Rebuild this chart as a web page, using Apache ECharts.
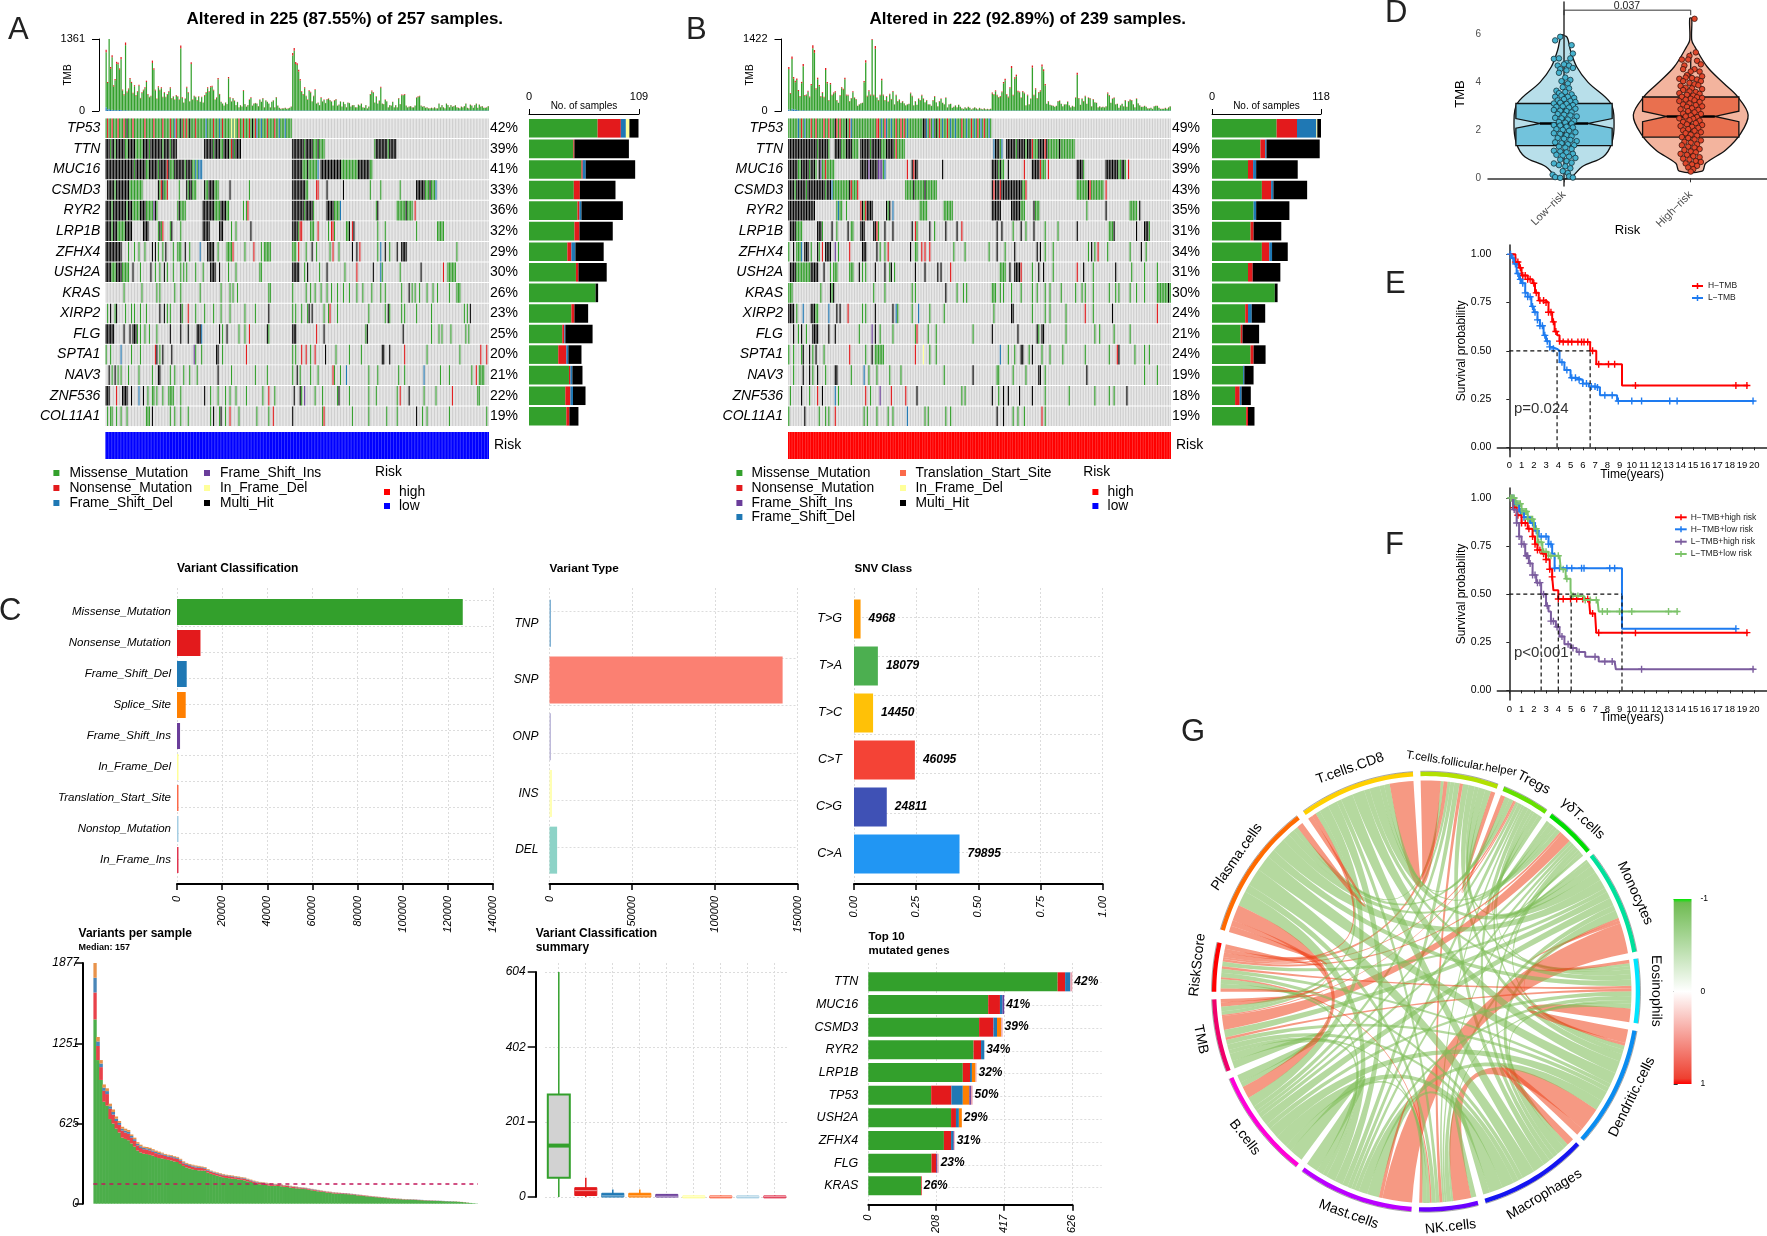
<!DOCTYPE html><html><head><meta charset="utf-8"><style>html,body{margin:0;background:#fff}#c{width:1767px;height:1236px}</style>
<script src="https://cdn.jsdelivr.net/npm/echarts@6/dist/echarts.min.js"></script></head><body><div id="c"></div><script>
const genesA=['TP53','TTN','MUC16','CSMD3','RYR2','LRP1B','ZFHX4','USH2A','KRAS','XIRP2','FLG','SPTA1','NAV3','ZNF536','COL11A1'];
const pctA=['42%','39%','41%','33%','36%','32%','29%','30%','26%','23%','25%','20%','21%','22%','19%'];
const pctB=['49%','49%','39%','43%','35%','31%','34%','31%','30%','24%','21%','24%','19%','18%','19%'];
const tmbAMiss=[1040,500,1340,780,990,450,560,880,870,760,960,380,290,1230,340,400,590,520,320,460,280,350,470,230,330,380,420,540,300,250,270,900,770,380,220,440,380,420,250,330,250,300,350,420,230,260,200,280,260,200,1180,240,150,220,430,330,170,880,200,270,250,190,260,160,250,150,280,330,420,350,440,450,380,200,240,590,300,160,130,90,150,120,610,240,170,230,180,100,160,60,100,70,370,120,70,100,200,240,90,130,140,130,80,200,160,230,60,190,160,130,60,160,190,60,245,90,50,30,40,40,50,30,40,50,70,1040,1130,880,860,740,570,350,300,420,270,200,370,340,170,270,390,130,150,100,240,170,200,140,210,220,190,170,90,190,210,90,110,170,70,160,120,60,150,140,70,100,100,60,60,110,90,130,60,50,100,40,70,300,360,330,150,260,130,180,430,130,120,200,170,60,100,90,160,60,100,60,230,120,290,290,300,90,60,70,80,60,60,90,240,260,270,90,70,80,50,60,40,40,50,40,60,40,40,130,60,100,60,40,130,100,60,100,70,80,100,60,50,40,70,60,80,130,50,40,110,90,50,100,130,50,110,70,80,50,50,60,80];
const tmbANons=[50,20,50,30,40,20,25,35,30,25,40,15,15,50,20,15,25,20,15,20,15,15,20,10,15,15,20,25,15,10,10,45,30,15,10,20,15,20,10,15,10,15,15,20,10,10,10,15,10,10,50,10,5,10,20,15,5,35,10,10,10,10,10,5,10,5,15,15,20,15,20,20,15,10,10,25,15,5,5,5,5,5,25,10,5,10,10,5,5,5,5,5,15,5,5,5,10,10,5,5,5,5,5,10,5,10,5,5,5,5,5,5,5,5,10,5,5,5,5,5,5,5,5,5,5,50,55,40,35,30,25,15,15,20,10,10,15,15,5,10,15,5,5,5,10,5,10,5,10,10,10,5,5,10,10,5,5,5,5,5,5,5,5,5,5,5,5,5,5,5,5,5,5,5,5,5,5,15,20,15,5,10,5,10,20,5,5,10,5,5,5,5,5,5,5,5,10,5,15,10,15,5,5,5,5,5,5,5,10,10,10,5,5,5,5,5,5,5,5,5,5,5,5,5,5,5,5,5,5,5,5,5,5,5,5,5,5,5,5,5,5,5,5,5,5,5,5,5,5,5,5,5,5,5,5,5,5];
const tmbBMiss=[800,330,980,610,540,590,380,270,540,870,290,300,370,260,500,1230,1140,420,620,480,270,350,260,800,540,200,520,300,340,360,200,150,290,440,410,620,300,300,180,240,360,250,220,90,120,140,150,560,950,280,380,300,1400,300,1220,250,200,300,600,300,200,270,170,320,220,370,120,300,180,210,150,180,140,100,120,130,340,280,100,180,110,230,200,300,230,160,200,120,120,90,200,270,160,80,180,230,150,120,250,60,120,130,50,70,100,60,110,70,40,30,60,40,70,50,20,40,60,40,20,50,30,20,40,20,30,20,30,340,310,380,300,260,270,360,540,600,310,260,440,840,300,630,680,370,360,250,370,340,100,300,120,230,850,300,420,240,350,380,870,780,500,130,180,110,100,90,70,90,180,190,130,80,120,120,170,100,60,90,70,250,710,240,110,230,180,280,130,250,240,80,220,160,150,60,80,60,70,60,80,340,290,150,230,250,120,130,50,100,130,80,200,70,180,210,200,120,60,230,140,100,70,70,90,70,40,40,50,30,80,90,90,50,30,30,30,50,30,60,80];
const tmbBNons=[40,15,50,30,25,30,20,15,25,45,15,15,20,15,25,60,55,20,30,25,15,15,15,40,25,10,25,15,15,20,10,5,15,20,20,30,15,15,10,10,20,10,10,5,5,5,5,25,45,15,20,15,60,15,55,10,10,15,30,15,10,15,10,15,10,15,5,15,10,10,5,10,5,5,5,5,15,15,5,10,5,10,10,15,10,5,10,5,5,5,10,15,5,5,10,10,5,5,10,5,5,5,5,5,5,5,5,5,5,5,5,5,5,5,5,5,5,5,5,5,5,5,5,5,5,5,5,15,15,20,15,10,15,15,25,30,15,15,20,40,15,30,30,20,15,10,15,15,5,15,5,10,40,15,20,10,15,20,40,35,25,5,10,5,5,5,5,5,10,10,5,5,5,5,10,5,5,5,5,10,35,10,5,10,10,15,5,10,10,5,10,5,5,5,5,5,5,5,5,15,15,5,10,10,5,5,5,5,5,5,10,5,10,10,10,5,5,10,5,5,5,5,5,5,5,5,5,5,5,5,5,5,5,5,5,5,5,5,5];
const tmbAShift=[70,30,40,20,25,15,20,15,15,20,20,10,10,15,10,10,10,10,10];
const tmbBShift=[30,10,45,30,30,20,15,10,10,15,10,10,10,10,10,10,10];
const oncoA=[
"m0-124 n1 n4 n8 n12 k14 n18 n26 n32 n38 n43 f46 n47 k50 n52 n54 k56 n60 f67 n72 f76 n78 y84 y86 n89 n92 n96 k98 n100 f101 f104 n108 n113 f116 f120",
"k0-2 m3 k4-5 m6 k7-12 m13-14 k15-19 m20-24 k25-28 m29 k30-37 m38 k39-42 m43 k44-47 k66-71 m72 k73-76 m77-78 k79-82 m83 n84 k85 m86 k87-90 k125-132 m133 k134-138 m139-141 k142 m143-146 m180 k181-188 m189 k190-194",
"k0-18 m19 k20-26 m27-28 k29-34 m35 k36-42 n41 m43-45 k46-52 m53 k54-57 m58-59 f60 m61 f62-64 k125-131 m132-134 k135 m136-141 f142 k144-157 m158-168 k169-176 m177-178",
"k1-5 m6 k7-15 m16-24 k35 m36 n37 k38 m39-40 n41 m49 k54 m55 k56-57 m58-60 k66 m67-68 k69-72 m73-75 k83 m96 k125-133 m134-135 n141-142 k148 k159 m177 m184 m197 k208-213 m214-216 k217 m218-220 f221",
"k0-3 m4 k5-13 m14 k15-17 m18-22 k23-26 m27-31 i32 k33 m34 m48 k49 m50-53 k65-72 m73-76 k77-80 m81-82 m92 m94 n95 k125-132 m133 k134-138 m139 k148-152 m153-156 f157 m181 k182 m195-200 k201 m202-205 n207",
"k0-3 m4 k5-7 m8-12 k13-17 k25-28 m35 k36 m37 n38 m43 k44 m50 k65-69 k76-78 m84 m87 k97 k125-128 m129 n130 n131 m137-139 n142 m149 n151 n152 m153 m161-162 k163 n165 k166 m182 m187 m208 m222-226",
"k0-10 m15 m19 m22 m26 k31 k33 m35 m38 k40 m45 m48-50 k53 m56 f63 k68-72 m75 m81-84 n85 m93 n99 m104 m106-110 m125-127 n129 m134 k138 m141 m150 n152 m156 k165 k168 n170 m182 f184 k187 m190 k195 k198-201 m235",
"k0-3 m4-6 k7-10 m11-15 k18 m23 k30 m33 m36 k39 m41 m45 m50 m52 m54 m60 m65 k70-73 k76 m82 m87 m103-104 k125-129 m133 k135 m143 k148 m160 n168 k179 f184 m185 m197 k211 n226 m229-234",
"m12 m24 m34 m36 m46 m50 m63 m77 m83 m85 m88 m109-110 m125 m134 m137 m140 m144 m148 m151 m155 m159 m163 m168 m172 m178 m184 m187 m198 k203 m205 m207 m210 m215 m219 m222 m230 m235-237",
"m1 k3 m6 k7 m13 m17 m19 m23 m27 k36 k39 m41 m43 k50 m51 n55 m60 m66 m72 m77 m83 m93 m100 k109 m125 m127 m131 m135 k136 k138 m146 m149 n150 m155 m176 m187 k189 m190 m198 m200 m208 m218 m240 m242 k244",
"k0-5 k12 k16 k18-20 m21 m23 m26 m29 m34 k43 k50 k55 k61-63 f64 k76 m78 k81 m89 m93 n96 k108 m109 k125-127 n141 k146 m174 k175 k199 m218 m223 m225 m231 m241 m243",
"m0 m3 f10 m17 m23 n33 k34 m36 k38 k44 i59 m60 m64 k74 k75 m78 n94 m125 m127 n131 n134 m137 n140 k147 m154 m163 m171 k185 k186 k190 n200 m215 m237 n251 n255",
"k2 m4 k6 m8 m10 m15 m22 m31 k35-36 m43 m46 m52 m56 m61 k75 m84 m100 m108 m125 k128 m130 m137 m142 n152 m153 m157 f161 m176 m182 m196 m200 f213 m224 m230 m245 n248 m250-253",
"k0-2 n7 k11-14 k17 f22 k25 m28 m31-32 m34 m38 m42-45 m50 k66 m70 m75 m80 m83 m87 m94 m105 n109 m113 k126 k130 m131 i133 m140 m145 m155 k156 m163 m176 m181 m195 n197 k203 m213 m221 n232 m249-250",
"m1 m3-4 m7 m10 m14 m27-29 k31 m43 m46 m50 m55 m70 k72 m76 k77 m80 n83 m89 m101 m109 n112 k125 m145 n146 m165 m176 m188 m195 k208 m212 m215 m230 m255"];
const oncoB=[
"m0-126 f6 n8 f10 n14 n17 n22 n25 k29 n30 n32 k36 n38 f39 n55 n56 f58 n60 f61 f64 n67 n70 n72 f74 k84 k85 f86 n88 f90 k92 n94 f96 n99 f101 f104 n108 f111 n114 f116 n118 f120 n122 f125",
"k0-17 m18 k19-24 m25 k29-32 m33-35 k36-39 m40-43 k45-50 m51 k52-57 m58-60 k61-65 m66 n67 m68-72 f128 k129-131 m132 f133 k136-141 m142 k143-147 m148 k149-151 n152 m153-155 k156-159 n160 k161 m162-168 k169 m170-178",
"k0-5 m6-7 k8-12 m13 k14-16 m17 k19 i20 m21-22 n23 m24-28 k45-49 i50 k51-55 i56-58 m59 f60 n74 k77 n78 k79-80 k96 k127-130 m131 k132 m133-134 k137 n147 k152-156 n157 m158-160 n162 k180-183 m184 k198-205 m206-207 k208-209 m210 n212",
"k0-3 m4 k5-10 m11 k12-22 m23 k24-26 f27 m28-37 k38 n39 m40-42 n43 m73-77 k78 m79-84 k85 m86-92 k127 n128 k129-131 n132 k133-145 m146-147 n148 m180-186 k187 n188 m189-196 n198",
"k0-16 m30 f31 m32-33 m36 n45 k46 m47 n48 k49-52 k61 m62 k63 f65 m82-86 m97-102 k127-132 k139-144 m145-147 k153 m154-156 m186 k198 m213-217 k219",
"k1-4 m5-8 k18-20 m21 k27 m30 k37 m39 m40 k45-47 k53 k54 n55 m56 k60 k65 k77 n79 m80 k88 m91 k98 k105 n108 k130 k133 m140 k145 m148 k153 m160 m168 k180 m200-202 k203 k217 k222-224 m225",
"m0 k3 m5-7 f8 k10-12 m14 k18 m19 n21 k23-26 i29 m31 n38 k46-48 k55 m57 m60 n62 k76 m79-80 n83 n85 n88 m103 m110 m125 k130 m135 k141 k155 k157 m160 m165 m187 k189 m191 n193 m199 m213 k220 m223",
"k1-4 m5-13 k14-18 k22 m26 m28-30 m38-40 k44 m46 m48 k54 k60 m63 k64 m66 k79 k85 k93 k95 n101 m132-135 k138 k141-145 n145 m152 k156 k159 m165 n180 k184 m190 k204 m214 m222 m230",
"m0-2 m20 k26 m27 k28 m53 m60 m77 m79 k98 m105 m109 m111 m127-129 m132 m134 m139 m145 m152 m155 m160 m163 m170 m179 m183 m185 m190 m200 m204 m206 m213 m217 m222 m230-238 k237",
"k0-3 m5 f9 k14-16 m17-18 f25 k30 k32 n37 m46 m48 k54 k65 f67 m68 m77 f81 m88 m97 m128 k139-140 m152 m160 m163 m173 n185 m190 k202 n230",
"k3 m6 k8 m11 k15-18 k25 k29 m44 i52 k54 m57 m65 m79 n80 m87 m92 m115 k127 k143 k155 m156 k158-159 m173 m191 m194 m203 m213",
"m0 m3 m8 k9 k13 m15 k17 m22 n38 m48 k52 m54-59 n79 y84 m88 m92 f132 m137 m141 k145 k146 m150 k152 m158 m163 m171 m185 m200 n205 k206 m216 m222 m225",
"m3 k9 k13 m15 k18 m23 k29-30 m39 f47 m50 m55 m63 m70 m97 k115 m130-131 m140 m148 k156-157 m160 k186 m222 m230",
"m1 k8 m13 n18 k21 f29 m31 n48 m51 i57 n64 n73 k80 m108 m110 k127 m131 k134 k137 k144 k152 m160 m175 m191 m200 m203 k211",
"m0 k10 m19 m23 m25 n29 m47 m49 m55 m62 m65 f74 m85 m87 m98 m101 k130 k134 m140 m143 m147 n158 m160"];
const sideAMiss=[68,44,52,44.4,48,45,38,46.5,66,42,33,29,39.6,36,37],sideANons=[23,1,1.2,6,2,5,4,2.5,0,3,2,8,1.4,5,3],sideAFdel=[5,0,3,0,2,0,4,0,0,0,1,2,2,2.6,0],sideAOth=[3.5,0,0,0,0,0,0,0,0,0,0,0,0,0,0],sideAMulti=[9,54,49,35.3,41,33,28,28,2.5,13.6,27,13,10,12.4,9];
const sideBMiss=[70,52.4,39,54,45,41.7,54,39,68,36,31,41.7,33.7,25,37],sideBNons=[22,5.2,5.5,10,0,3.3,8,5,0,3,2,3.3,0,5,2],sideBFdel=[21,1.4,3.3,2.5,2.8,0,3,0,0,4,0,0,1.3,2,0],sideBOth=[1,0,0,0,0,0,0,0,0,0,0,0,0,0,0],sideBMulti=[4,57.6,45,36.5,36,30,17,30,3,14.6,18,13,10,10,7];
const vcNames=['Missense_Mutation','Nonsense_Mutation','Frame_Shift_Del','Splice_Site','Frame_Shift_Ins','In_Frame_Del','Translation_Start_Site','Nonstop_Mutation','In_Frame_Ins'];
const vcValues=[126600,10400,4300,3860,1350,350,300,150,60];
const vcColors=['#33A02C','#E31A1C','#1F78B4','#FF7F00','#6A3D9A','#FFFF99','#FB6A4A','#A6CEE3','#E0354F'];
const vtNames=['TNP','SNP','ONP','INS','DEL'],vtValues=[20,141000,100,1500,4600],vtColors=['#80B1D3','#FB8072','#BEBADA','#FFFFB3','#8DD3C7'];
const snvNames=['T>G','T>A','T>C','C>T','C>G','C>A'],snvCounts=[4968,18079,14450,46095,24811,79895],snvFrac=[.0264,.096,.0767,.2448,.1318,.4243],snvColors=['#FF9800','#4CAF50','#FFC107','#F44336','#3F51B5','#2196F3'];
const vpsTotal=[1877,1300,1120,930,900,780,735,680,645,600,585,575,540,515,480,460,445,442,436,425,414,406,398,388,382,378,370,365,350,330,318,310,304,298,295,290,285,270,258,250,244,238,232,226,224,220,216,212,208,204,195,188,180,174,170,168,164,160,157,155,152,150,146,144,140,136,134,130,127,125,120,116,112,108,104,100,96,94,90,88,86,84,83,81,78,76,72,70,66,64,61,58,56,54,52,49,47,44,42,40,39,37,36,35,34,33,31,30,28,27,26,25,24,23,22,21,20,19,18,16,14,12,9,6,4,2];
const vpsNons=[210,110,100,85,90,80,70,60,60,55,50,50,45,45,40,35,35,35,35,30,30,30,30,25,25,25,25,25,25,20,20,20,20,20,20,20,15,15,15,15,15,15,15,15,15,15,12,12,12,12,12,10,10,10,10,10,10,10,10,8,8,8,8,8,8,8,8,6,6,6,6,6,6,6,6,5,5,5,5,5,5,5,5,4,4,4,4,4,4,4,3,3,3,3,3,3,3,3,3,2,2,2,2,2,2,2,2,2,2,2,2,2,1,1,1,1,1,1,1,1,1,1,1,0,0,0];
const vpsFdel=[115,35,28,25,23,20,20,18,15,15,15,15,13,13,13,13,10,10,10,10,10,10,8,8,8,8,8,8,8,8,8,8,8,8,8,6,6,6,5,5,5,5,5,5,5,5,5,5,5,5,4,4,4,4,4,4,4,4,4,3,3,3,3,3,3,3,3,3,3,3,3,3,3,3,2,2,2,2,2,2,2,2,2,2,2,2,2,1,1,1,1,1,1,1,1,1,1,1,1,1,1,1,1,1,1,1,1,1,1,1,1,1,1,1,1,1,1,1,0,0,0,0,0,0,0,0];
const vpsSplice=[115,35,27,25,22,20,20,17,15,15,15,15,12,12,12,12,10,10,10,10,10,10,7,7,7,7,7,7,7,7,7,7,7,7,7,6,6,6,5,5,5,5,5,5,5,5,5,5,5,5,4,4,4,4,4,4,4,4,4,3,3,3,3,3,3,3,3,2,2,2,2,2,2,2,2,2,2,2,2,2,2,1,1,1,1,1,1,1,1,1,1,1,1,1,1,1,1,1,1,1,1,1,1,0,0,0,0,0,0,0,0,0,0,0,0,0,0,0,0,0,0,0,0,0,0,0];
const boxRows=[[0,52,138,275,604],[0,4,17,25,52],[0,0,3,10,20],[0,0,3,10,20],[0,0,2,7,8],[0,0,1,3,4],[0,0,1,3,4],[0,0,1,3,4],[0,0,1,3,4]];
const boxColors=['#33A02C','#E31A1C','#1F78B4','#FF7F00','#6A3D9A','#FFFF99','#FB6A4A','#A6CEE3','#E0354F'];
const topGenes=['TTN','MUC16','CSMD3','RYR2','LRP1B','TP53','USH2A','ZFHX4','FLG','KRAS'],topPct=['42%','41%','39%','34%','32%','50%','29%','31%','23%','26%'];
const topMiss=[581,368,340,323,290,193,254,232,194,162],topNons=[23,36,44,23,22,62,15,22,14,2],topFdel=[16,8,11,10,6,35,9,7,0,0],topSplice=[0,0,13,0,11,20,9,0,0,0],topFins=[0,5,0,0,0,5,0,2,4,0],topOther=[6,0,4,0,3,5,0,2,4,0];
const riskNames=['Low−risk','High−risk'];
const violinLow=[[5.9,.022],[5.35,.05],[4.65,.1],[4,.19],[3.12,.37],[2.29,.395],[1.46,.376],[.9,.31],[.49,.145],[.03,.05]];
const violinHigh=[[6.67,.008],[5.76,.008],[5.49,.032],[4.65,.13],[3.96,.26],[3.4,.37],[2.64,.453],[1.875,.395],[1.18,.276],[.625,.118],[.3,.09]];
const boxLow=[0,1.36,2.29,3.12,5.9],boxHigh=[.3,1.72,2.58,3.39,5.28];
const ptsLow=[-7,575,-3,590,6,555,7,520,-8,498,-4,500,5,500,2,480,-5,470,0,475,4,470,7,460,-3,455,2,450,-4,440,1,420,5,410,-2,405,3,395,-6,365,-1,380,4,375,-4,355,1,360,6,350,-7,340,-2,345,3,340,8,335,-5,325,0,330,5,322,9,318,-8,312,-3,315,2,310,7,305,-6,298,-1,300,4,295,9,290,-8,285,-3,282,2,280,6,275,-5,268,0,265,5,262,10,258,-7,252,-2,250,3,245,8,240,-4,235,1,232,6,228,-8,222,-3,220,2,215,7,212,-6,205,-1,202,4,198,9,192,-8,188,-3,185,2,180,6,175,-5,168,0,165,5,160,10,155,-7,150,-2,146,3,142,8,138,-4,132,1,128,6,122,-8,115,-3,112,2,108,7,102,-6,98,-1,95,4,90,9,85,-8,62,-3,78,2,72,6,65,-4,55,1,50,5,42,-1,30,3,22,-9,15,4,8,-7,5,7,3,-3,2];
const ptsHigh=[3,665,4,525,-1,510,-7,495,-2,495,5,490,8,475,-5,470,-6,455,3,455,7,445,0,445,-3,430,9,425,-9,415,-4,420,1,418,5,412,-6,405,8,405,-1,398,3,392,-8,385,6,388,-4,378,1,375,9,372,-6,368,-1,362,4,360,-9,355,7,352,-3,348,2,345,-7,340,5,338,0,332,9,335,-4,328,-9,322,3,325,7,318,-1,312,-6,308,4,305,9,300,-3,298,1,292,-8,288,6,285,-2,280,3,275,-6,270,8,268,0,262,-4,258,5,255,-9,250,2,248,-1,242,7,240,-6,235,4,230,-3,225,9,222,-8,218,1,215,6,210,-2,205,-6,200,3,198,8,192,-4,188,0,182,5,178,-7,172,-2,168,3,162,8,158,-5,152,0,148,5,142,-7,138,-2,132,3,128,7,122,-5,118,0,112,4,108,-8,102,-3,98,2,92,7,88,-6,82,-1,78,4,72,8,68,-4,62,1,58,5,52,-2,45,2,38,0,28];
const kmEHigh=[[0,1],[.5,.96],[.8,.93],[1,.89],[1.5,.87],[1.9,.85],[2.1,.8],[2.4,.76],[3,.75],[3.2,.7],[3.5,.65],[3.7,.6],[3.9,.58],[4.1,.55],[4.3,.545],[6.6,.5],[7.1,.43],[9.2,.32],[19.5,.32]];
const kmELow=[[0,1],[.2,.98],[.4,.95],[.6,.9],[.8,.87],[1,.85],[1.3,.8],[1.5,.78],[1.8,.73],[2,.7],[2.3,.66],[2.5,.63],[2.8,.58],[3,.55],[3.3,.52],[3.5,.51],[3.9,.5],[4.1,.44],[4.5,.4],[5,.36],[5.5,.35],[6,.33],[6.5,.315],[7.1,.31],[7.4,.27],[8.6,.27],[8.8,.24],[20,.24]];
const censEHigh=[.5,.7,.9,1.1,1.3,1.5,1.7,2,2.2,2.5,2.8,3,3.2,3.4,3.6,3.8,4.1,4.4,4.8,5.1,5.6,5.9,6.1,6.4,6.8,7.3,8.1,8.6,10.3,18.5,19.4];
const censELow=[.1,.3,.5,.7,.9,1.1,1.3,1.5,1.7,1.9,2.1,2.3,2.5,2.7,2.9,3.1,3.3,3.6,4.3,4.7,5.1,5.4,5.7,6,6.3,6.7,7,7.2,7.8,8.4,8.9,10,10.8,13.1,13.7,19.9];
const kmF1=[[0,1],[.3,.95],[.6,.91],[1,.87],[1.5,.84],[1.9,.8],[2.1,.76],[2.3,.73],[2.7,.71],[3,.68],[3.3,.63],[3.5,.59],[3.6,.52],[4,.475],[6.5,.47],[6.6,.4],[7,.39],[7.1,.3],[19.5,.3]];
const kmF2=[[0,1],[.4,.97],[.8,.93],[1.2,.9],[1.7,.87],[2.1,.83],[2.4,.8],[3,.8],[3.2,.76],[3.5,.71],[3.7,.635],[9.2,.32],[18.5,.32]];
const kmF3=[[0,1],[.3,.94],[.6,.87],[.8,.8],[1,.76],[1.3,.7],[1.6,.66],[1.9,.6],[2.2,.56],[2.6,.5],[3,.44],[3.2,.41],[3.4,.36],[3.8,.33],[4.1,.28],[4.5,.24],[5,.22],[5.5,.2],[6.2,.175],[7.3,.15],[8.6,.145],[8.7,.11],[20,.11]];
const kmF4=[[0,1],[.5,.97],[1,.93],[1.5,.89],[2,.84],[2.3,.77],[2.7,.72],[3.2,.7],[4.1,.695],[4.2,.63],[4.6,.58],[5,.52],[5.1,.49],[6.1,.47],[7.2,.465],[7.3,.41],[13.8,.41]];
const censF1=[.4,.7,1,1.3,1.6,1.9,2.1,2.3,2.5,2.8,3,3.3,3.5,4,4.4,5,5.5,6,6.4,6.8,7.3,10.3,19.4];
const censF2=[.3,.6,.9,1.2,1.5,1.9,2.2,2.6,3,3.2,3.4,3.7,4.1,4.7,5.1,5.9,6.1,8.2,8.6,18.5];
const censF3=[.2,.4,.6,.8,1,1.2,1.4,1.5,1.7,1.9,2.1,2.3,2.5,2.8,3.1,3.4,3.6,3.9,4.3,4.8,5.2,5.7,7,7.8,8.4,10.8,19.9];
const censF4=[.1,.2,.3,.4,.5,.6,.7,.8,.9,1,1.1,1.2,1.3,1.4,1.5,1.6,1.7,1.8,1.9,2,2.2,2.4,2.6,2.8,3,3.2,3.4,3.7,4,4.4,4.7,5.2,5.6,6.2,6.6,7.1,7.6,8,9,10,13,13.7];
const chordNames=['T.cells.follicular.helper','Tregs','γδT.cells','Monocytes','Eosinophils','Dendritic.cells','Macrophages','NK.cells','Mast.cells','B.cells','TMB','RiskScore','Plasma.cells','T.cells.CD8'];
const chordStart=[-1.5,21.4,36,51.3,81.3,100.3,134.3,165.8,183.9,217.3,248.7,270,286.4,325];
const chordSpan=[21.2,13,13.9,28.2,17,32.3,29.5,16.1,31.5,29.4,19.3,13,36.6,31.5];
const chordColors=['#B2E000','#66E000','#00DD00','#00E09B','#00E5FF','#0A8CF0','#1515F0','#6A00FF','#BA00FF','#FF00D8','#F0006A','#FF0000','#FF6A00','#FFD000'];
const chordUpper=[[16,-20,-24,-14,-22,-20,12,-18,-14,-10,14,-10,70],[-14,-18,-10,-14,-16,-8,-14,-10,4,6,-14,-16],[-8,-8,-12,-14,-8,-12,-12,40,8,-16,-14],[10,8,-26,-18,100,-26,-22,-14,-30,-30],[40,-14,-8,-14,-14,8,8,-18,-16],[22,70,-30,-30,-14,-12,-34,-36],[-20,-40,-36,-16,-14,-38,-36],[12,-18,-12,6,-16,-14],[-40,-22,-14,-32,-28],[-22,-14,34,-28],[10,12,-14],[14,12],[14]];
const chordFirst={8:[3]},chordLast={3:[8]};

const FF='"Liberation Sans",Arial,sans-serif';
const MC={m:'#33A02C',n:'#E31A1C',f:'#1F78B4',i:'#6A3D9A',y:'#FFFF99',k:'#000000',t:'#FB6A4A'};
const grid=[],xAxis=[],yAxis=[],extraY=[],series=[],graphic=[];
const chart=echarts.init(document.getElementById('c'),null,{renderer:'canvas',width:1767,height:1236});
const addGrid=(l,t,w,h)=>{grid.push({left:l,top:t,width:w,height:h});return grid.length-1};
const txt=(x,y,s,o={})=>graphic.push({type:'text',x,y,rotation:o.rot||0,z:20,style:{text:s,fontFamily:FF,fontSize:o.s||13,fontWeight:o.w||'normal',fontStyle:o.st||'normal',fill:o.c||'#000',align:o.a||'left',verticalAlign:'middle'}});
const sq=(x,y,c,s=6)=>graphic.push({type:'rect',z:20,shape:{x:x-s/2,y:y-s/2,width:s,height:s},style:{fill:c}});
const seg=(x0,y0,x1,y1,c,w=2)=>graphic.push({type:'line',z:20,shape:{x1:x0,y1:y0,x2:x1,y2:y1},style:{stroke:c,lineWidth:w}});
const DOT={color:'#dcdcdc',type:[2,2],width:1};
const off={axisLine:{show:false},axisTick:{show:false},axisLabel:{show:false}};
const plain=v=>String(v);
function rule(l,t,w,h,dx,dy){const g=addGrid(l,t,w,h);
 xAxis.push({gridIndex:g,type:'value',min:0,max:w,interval:dx||w,...off,splitLine:{show:!!dx,lineStyle:DOT}});
 yAxis.push({gridIndex:g,type:'value',min:0,max:h,interval:dy||h,...off,splitLine:{show:!!dy,lineStyle:DOT}});}
function parseOnco(str){const out=[];for(const m of str.matchAll(/([a-z])(\d+)(?:-(\d+))?/g)){const a=+m[2],b=m[3]?+m[3]:a;for(let i=a;i<=b;i++)out[i]=m[1];}return out;}
function oncoPanel(o){const n=o.n,cats=Array.from({length:n},(_,i)=>i),gT=addGrid(o.l,39,o.w,72);
 xAxis.push({gridIndex:gT,type:'category',data:cats,show:false});
 yAxis.push({gridIndex:gT,type:'value',min:0,max:o.max,interval:o.max,offset:o.off,name:'TMB',nameLocation:'middle',nameGap:26,nameTextStyle:{fontSize:10,color:'#000'},axisLine:{show:true,lineStyle:{color:'#000'}},axisTick:{show:true,length:7,lineStyle:{color:'#000'}},axisLabel:{fontSize:11,color:'#000',margin:14,formatter:plain},splitLine:{show:false}});
 [[o.shift,'#1F78B4'],[o.miss,'#33A02C'],[o.nons,'#E31A1C']].forEach(([d,c])=>series.push({type:'bar',xAxisIndex:gT,yAxisIndex:gT,stack:'t'+n,data:d,barWidth:'82%',itemStyle:{color:c},silent:true}));
 const gO=addGrid(o.l,118,o.w,308.6);
 xAxis.push({gridIndex:gO,type:'category',data:cats,show:false});
 yAxis.push({gridIndex:gO,type:'category',data:genesA,inverse:true,axisLine:{show:false},axisTick:{show:false},axisLabel:{fontSize:14,fontStyle:'italic',color:'#000',margin:5}});
 extraY.push({gridIndex:gO,type:'category',position:'right',data:o.pct,inverse:true,axisLine:{show:false},axisTick:{show:false},axisLabel:{fontSize:14,color:'#000',margin:1}});
 const cells=[],muts=[];const codes=Object.keys(MC);
 o.onco.forEach((s,j)=>{const r=parseOnco(s);for(let i=0;i<n;i++){cells.push([i,j,0]);if(r[i])muts.push([i,j,codes.indexOf(r[i])]);}});
 const mk=(d,cols,fr)=>series.push({type:'custom',xAxisIndex:gO,yAxisIndex:gO,data:d,silent:true,progressive:0,clip:false,renderItem:(p,api)=>{const c=api.coord([api.value(0),api.value(1)]),w=api.size([1,1])[0]*fr;return {type:'rect',shape:{x:c[0]-w/2,y:c[1]-9.8,width:w,height:19.6},style:{fill:cols[api.value(2)]}}}});
 mk(cells,['#cfcfcf'],.72);mk(muts,codes.map(c=>MC[c]),.72);
 const gR=addGrid(o.l,432,o.w,27);
 xAxis.push({gridIndex:gR,type:'category',data:cats,show:false});
 yAxis.push({gridIndex:gR,type:'value',min:0,max:1,show:false});
 series.push({type:'bar',xAxisIndex:gR,yAxisIndex:gR,data:cats.map(()=>1),barWidth:'110%',itemStyle:{color:o.risk},silent:true});
 txt(o.l+o.w+5,445.6,'Risk',{s:14});
 const gS=addGrid(o.sl,118,o.sw,308.6);
 xAxis.push({gridIndex:gS,type:'value',position:'top',min:0,max:o.smax,interval:o.smax,offset:4,name:'No. of samples',nameLocation:'middle',nameGap:3,nameTextStyle:{fontSize:10,color:'#000'},axisLine:{show:true,lineStyle:{color:'#000'}},axisTick:{show:true,length:5,lineStyle:{color:'#000'}},axisLabel:{fontSize:11,color:'#000',margin:12},splitLine:{show:false}});
 yAxis.push({gridIndex:gS,type:'category',data:genesA,inverse:true,show:false});
 o.side.forEach((d,i)=>series.push({type:'bar',xAxisIndex:gS,yAxisIndex:gS,stack:'s'+n,data:d,barWidth:18.6,itemStyle:{color:['#33A02C','#E31A1C','#1F78B4','#FFFF99','#000'][i]},silent:true}));
}
oncoPanel({n:257,l:105.4,w:383.6,off:6.4,max:1361,miss:tmbAMiss,nons:tmbANons,shift:tmbAShift.concat(Array(238).fill(8)),pct:pctA,onco:oncoA,risk:'#0000FF',sl:529,sw:110,smax:109,side:[sideAMiss,sideANons,sideAFdel,sideAOth,sideAMulti]});
oncoPanel({n:239,l:788,w:383,off:6.5,max:1422,miss:tmbBMiss,nons:tmbBNons,shift:tmbBShift.concat(Array(222).fill(8)),pct:pctB,onco:oncoB,risk:'#FF0000',sl:1212,sw:109,smax:118,side:[sideBMiss,sideBNons,sideBFdel,sideBOth,sideBMulti]});
txt(344.8,19,'Altered in 225 (87.55%) of 257 samples.',{s:17,w:'bold',a:'center'});
txt(1027.8,19,'Altered in 222 (92.89%) of 239 samples.',{s:17,w:'bold',a:'center'});
txt(8,30,'A',{s:31,c:'#222'});txt(686,30,'B',{s:31,c:'#222'});txt(-1,611,'C',{s:31,c:'#222'});txt(1385,13,'D',{s:31,c:'#222'});txt(1385,284,'E',{s:31,c:'#222'});txt(1385,545,'F',{s:31,c:'#222'});txt(1181,732,'G',{s:31,c:'#222'});
[['Missense_Mutation','#33A02C',56.4,69.4,473],['Nonsense_Mutation','#E31A1C',56.4,69.4,488],['Frame_Shift_Del','#1F78B4',56.4,69.4,503],['Frame_Shift_Ins','#6A3D9A',207,220,473],['In_Frame_Del','#FFFF99',207,220,488],['Multi_Hit','#000',207,220,503],['high','#F00',387,399,492],['low','#00F',387,399,506],
 ['Missense_Mutation','#33A02C',739.4,751.5,473],['Nonsense_Mutation','#E31A1C',739.4,751.5,488],['Frame_Shift_Ins','#6A3D9A',739.4,751.5,503],['Frame_Shift_Del','#1F78B4',739.4,751.5,517],['Translation_Start_Site','#FB6A4A',903,915.5,473],['In_Frame_Del','#FFFF99',903,915.5,488],['Multi_Hit','#000',903,915.5,503],['high','#F00',1095.4,1107.6,492],['low','#00F',1095.4,1107.6,506]].forEach(a=>{sq(a[2],a[4],a[1]);txt(a[3],a[4],a[0],{s:13.8});});
txt(375,472.5,'Risk',{s:13.8});txt(1083.3,472.5,'Risk',{s:13.8});

const italic={fontStyle:'italic',color:'#000'};
const blackAxis=(extra)=>({axisLine:{show:true,lineStyle:{color:'#000',width:2}},axisTick:{show:true,length:6,lineStyle:{color:'#000',width:1.5}},splitLine:{show:false},...extra});
function hbars(o){rule(o.l,588,o.w,296,o.dx,0);rule(o.l,o.lb-o.dy*o.k,o.w,o.dy*o.k,0,o.dy);
 const g=addGrid(o.l,o.t,o.w,o.h);
 xAxis.push({gridIndex:g,type:'value',min:0,max:o.max,interval:o.int,offset:884-o.t-o.h,...blackAxis({axisLabel:{rotate:90,fontSize:11,margin:12,...italic,formatter:o.fmt}})});
 yAxis.push({gridIndex:g,type:'category',data:o.names,inverse:true,axisLine:{show:false},axisTick:{show:false},axisLabel:{fontSize:o.fs||11.5,margin:o.m,...italic}});
 series.push({type:'bar',xAxisIndex:g,yAxisIndex:g,barWidth:o.bw,barMinHeight:o.mh||0,data:o.vals.map((v,i)=>({value:v,itemStyle:{color:o.cols[i]}})),silent:true,label:o.label});}
hbars({l:177,w:316,t:596.5,h:279,dx:45.14,lb:859.3,dy:25.9,k:10,max:140000,int:20000,names:vcNames,vals:vcValues,cols:vcColors,bw:26,m:6,mh:1.5,fmt:plain});
hbars({l:549.5,w:248,t:595,h:283.5,dx:82.67,lb:847.3,dy:47.2,k:5,max:150000,int:50000,names:vtNames,vals:vtValues,cols:vtColors,bw:47,m:11,mh:1.5,fmt:plain,fs:12});
hbars({l:854,w:248.7,t:595.5,h:282,dx:62.175,lb:852,dy:39.2,k:6,max:1,int:.25,names:snvNames,vals:snvFrac,cols:snvColors,bw:39,m:12,fs:12.5,fmt:v=>v.toFixed(2),label:{show:true,position:'right',distance:8,fontSize:12,fontWeight:'bold',fontStyle:'italic',color:'#000',formatter:p=>snvCounts[p.dataIndex]}});
txt(177,569,'Variant Classification',{s:12,w:'bold'});txt(549.5,569,'Variant Type',{s:11.8,w:'bold'});txt(854.5,569,'SNV Class',{s:11.5,w:'bold'});
txt(78.6,934,'Variants per sample',{s:12,w:'bold'});txt(78.6,948,'Median: 157',{s:9,w:'bold'});
txt(535.7,934,'Variant Classification',{s:12,w:'bold'});txt(535.7,947.5,'summary',{s:12,w:'bold'});
txt(868.5,937,'Top 10',{s:11.5,w:'bold'});txt(868.5,951,'mutated genes',{s:11.5,w:'bold'});

const vg=addGrid(93.4,963,384.6,240.7);
xAxis.push({gridIndex:vg,type:'category',data:vpsTotal.map((_,i)=>i),show:false});
yAxis.push({gridIndex:vg,type:'value',min:0,max:1877,offset:10.4,...blackAxis({axisTick:{show:true,length:8,lineStyle:{color:'#000',width:1.5},customValues:[0,625,1251,1877]},axisLabel:{fontSize:12,margin:4,...italic,formatter:plain,customValues:[0,625,1251,1877]}})});
series.push({type:'bar',xAxisIndex:vg,yAxisIndex:vg,stack:'v',barWidth:'118%',data:vpsTotal.map((t,i)=>t-vpsNons[i]-vpsFdel[i]-vpsSplice[i]),itemStyle:{color:'#4CAE4A'},silent:true,markLine:{silent:true,symbol:'none',z:9,label:{show:false},lineStyle:{color:'#C2185B',type:[4,4],width:1.5},data:[{yAxis:157}]}});
[[vpsNons,'#E8424A'],[vpsFdel,'#4A86B8'],[vpsSplice,'#E8924A']].forEach(([d,c])=>series.push({type:'bar',xAxisIndex:vg,yAxisIndex:vg,stack:'v',barWidth:'118%',data:d,itemStyle:{color:c},silent:true}));

rule(558.7,963,216,234,27,0);rule(545,972,243,225,0,75);
const bg=addGrid(545.3,972,243,225);
xAxis.push({gridIndex:bg,type:'category',data:vcNames,show:false});
yAxis.push({gridIndex:bg,type:'value',min:0,max:604,offset:9.6,...blackAxis({axisTick:{show:true,length:8,lineStyle:{color:'#000',width:1.5},customValues:[0,201,402,604]},axisLabel:{fontSize:12,margin:10,...italic,customValues:[0,201,402,604]}})});
series.push({type:'custom',xAxisIndex:bg,yAxisIndex:bg,silent:true,clip:false,data:boxRows.map((r,i)=>[i,...r]),renderItem:(p,api)=>{const i=api.value(0),c=boxColors[i],P=k=>api.coord([i,api.value(k)]),x=P(1)[0],y=k=>P(k)[1];
 return {type:'group',children:[
  {type:'line',shape:{x1:x,y1:y(1),x2:x,y2:y(5)},style:{stroke:c,lineWidth:1.5}},
  {type:'rect',shape:{x:x-11,y:y(4),width:22,height:Math.max(y(2)-y(4),2)},style:{fill:i?c:'#d2d2d2',stroke:c,lineWidth:i?1:2}},
  {type:'line',shape:{x1:x-11,y1:y(3),x2:x+11,y2:y(3)},style:{stroke:i?'rgba(255,255,255,.55)':c,lineWidth:i?1:4}}]};}});

rule(868.3,963,204,243,68,0);rule(868.3,982.5,233.4,205.2,0,22.8);
const tg=addGrid(868.3,970.5,204,228);
xAxis.push({gridIndex:tg,type:'value',min:0,max:626,offset:7.5,...blackAxis({axisTick:{show:true,length:6,lineStyle:{color:'#000',width:1.5},customValues:[0,208,417,626]},axisLabel:{rotate:90,fontSize:11,margin:10,...italic,customValues:[0,208,417,626]}})});
yAxis.push({gridIndex:tg,type:'category',data:topGenes,inverse:true,axisLine:{show:false},axisTick:{show:false},axisLabel:{fontSize:12.5,margin:10,...italic}});
[[topMiss,'#33A02C'],[topNons,'#E31A1C'],[topFdel,'#1F78B4'],[topSplice,'#FF7F00'],[topFins,'#6A3D9A'],[topOther,'#E9A3B0']].forEach(([d,c],k)=>series.push({type:'bar',xAxisIndex:tg,yAxisIndex:tg,stack:'g',barWidth:19,data:d,itemStyle:{color:c},silent:true,label:k==5?{show:true,position:'right',distance:2,fontSize:12,fontWeight:'bold',fontStyle:'italic',color:'#000',formatter:p=>topPct[p.dataIndex]}:undefined}));

const dg=addGrid(1488,2,279,184);
xAxis.push({gridIndex:dg,type:'value',min:-.6,max:1.602,name:'Risk',nameLocation:'middle',nameGap:38,nameTextStyle:{fontSize:13,color:'#000'},axisLine:{show:true,lineStyle:{color:'#333',width:1.5}},axisTick:{show:true,length:4,lineStyle:{color:'#333'},customValues:[0,1]},axisLabel:{rotate:45,fontSize:11,color:'#4d4d4d',margin:7,customValues:[0,1],formatter:v=>riskNames[v]},splitLine:{show:false}});
yAxis.push({gridIndex:dg,type:'value',min:-.32,max:7.35,name:'TMB',nameLocation:'middle',nameGap:21,nameTextStyle:{fontSize:13,color:'#000'},axisLine:{show:true,lineStyle:{color:'#333',width:1.5}},axisTick:{show:true,length:4,lineStyle:{color:'#333'},customValues:[0,2,4,6]},axisLabel:{fontSize:10,color:'#4d4d4d',margin:7,customValues:[0,2,4,6]},splitLine:{show:false}});
function violin(cx,prof,box,fill,boxFill,notch){series.push({type:'custom',xAxisIndex:dg,yAxisIndex:dg,data:[[cx,box[2]]],silent:true,clip:false,renderItem:(p,api)=>{
 const pt=(x,y)=>api.coord([x,y]),hw=.38,[,q1,med,q3]=box;
 const outline=[...prof.map(r=>pt(cx+r[1],r[0])),...prof.slice().reverse().map(r=>pt(cx-r[1],r[0]))];
 const B=[[cx-hw,q1],[cx+hw,q1],[cx+hw,med-notch],[cx+hw*.5,med],[cx+hw,med+notch],[cx+hw,q3],[cx-hw,q3],[cx-hw,med+notch],[cx-hw*.5,med],[cx-hw,med-notch]].map(a=>pt(a[0],a[1]));
 return {type:'group',children:[
  {type:'polygon',shape:{points:outline,smooth:.35},style:{fill,stroke:'#111',lineWidth:1.3}},
  {type:'polygon',shape:{points:B},style:{fill:boxFill,stroke:'#111',lineWidth:1.3}},
  {type:'line',shape:{x1:pt(cx-hw*.5,med)[0],y1:pt(0,med)[1],x2:pt(cx+hw*.5,med)[0],y2:pt(0,med)[1]},style:{stroke:'#000',lineWidth:2.5}},
  {type:'line',shape:{x1:pt(cx,0)[0],y1:pt(0,box[0])[1],x2:pt(cx,0)[0],y2:pt(0,box[4])[1]},style:{stroke:'#111',lineWidth:1.3}}]};}});}
violin(0,violinLow,boxLow,'#B8DFEA','#72C3DC',.2);violin(1,violinHigh,boxHigh,'#F3B49E','#E9704F',.22);
const toPts=(a,c)=>{const o=[];for(let i=0;i<a.length;i+=2)o.push([c+a[i]/100,a[i+1]/100]);return o};
series.push({type:'scatter',xAxisIndex:dg,yAxisIndex:dg,data:toPts(ptsLow,0),symbolSize:5.5,silent:true,itemStyle:{color:'#46B2CE',borderColor:'#17323b',borderWidth:.8,opacity:1}});
series.push({type:'scatter',xAxisIndex:dg,yAxisIndex:dg,data:toPts(ptsHigh,1),symbolSize:5.5,silent:true,itemStyle:{color:'#E0472B',borderColor:'#3b1710',borderWidth:.8,opacity:1}});
series.push({type:'line',xAxisIndex:dg,yAxisIndex:dg,data:[[0,6.8],[0,7.01],[1,7.01],[1,6.8]],symbol:'none',silent:true,clip:false,lineStyle:{color:'#333',width:1}});
txt(1627,6,'0.037',{s:10.5,a:'center',c:'#222'});

const PLUS='path://M4,0H6V4H10V6H6V10H4V6H0V4H4Z';
const sAt=(c,t)=>{let s=c[0][1];for(const p of c){if(p[0]<=t)s=p[1];}return s};
function km(top,h,y0,y1,curves,med,pv,py){const g=addGrid(1497.3,top,269.7,h);
 const ax={color:'#222',width:1.5};
 xAxis.push({gridIndex:g,type:'value',min:-.98,max:21.04,name:'Time(years)',nameLocation:'middle',nameGap:12,nameTextStyle:{fontSize:12,color:'#000'},axisLine:{show:true,lineStyle:ax},axisTick:{show:true,length:3,lineStyle:{color:'#222'},customValues:[...Array(21).keys()]},axisLabel:{fontSize:9.5,color:'#000',margin:4,hideOverlap:false,customValues:[...Array(21).keys()]},splitLine:{show:false}});
 yAxis.push({gridIndex:g,type:'value',min:y0,max:y1,name:'Survival probability',nameLocation:'middle',nameGap:30,nameTextStyle:{fontSize:12,color:'#000'},axisLine:{show:true,lineStyle:ax},axisTick:{show:true,length:3,lineStyle:{color:'#222'},customValues:[0,.25,.5,.75,1]},axisLabel:{fontSize:10.5,color:'#000',margin:6,customValues:[0,.25,.5,.75,1],formatter:v=>v.toFixed(2)},splitLine:{show:false}});
 curves.forEach(([c,cen,col])=>{series.push({type:'line',xAxisIndex:g,yAxisIndex:g,step:'end',data:c,symbol:'none',silent:true,lineStyle:{color:col,width:2}});
  series.push({type:'scatter',xAxisIndex:g,yAxisIndex:g,data:cen.map(t=>[t,sAt(c,t)]),symbol:PLUS,symbolSize:7,silent:true,itemStyle:{color:col,opacity:1}});});
 const mx=Math.max(...med);
 const ds=(d)=>series.push({type:'line',xAxisIndex:g,yAxisIndex:g,data:d,symbol:'none',silent:true,z:5,lineStyle:{color:'#111',width:1.2,type:[4,3]}});
 ds([[0,.5],[mx,.5]]);med.forEach(t=>ds([[t,0],[t,.5]]));
 txt(1514,py,pv,{s:15,c:'#333'});}
km(245,211.7,-.0487,1.048,[[kmEHigh,censEHigh,'#FF0000'],[kmELow,censELow,'#1E7BF0']],[3.9,6.6],'p=0.024',409);
km(488,212,-.05,1.052,[[kmF1,censF1,'#FF0000'],[kmF2,censF2,'#1E7BF0'],[kmF3,censF3,'#7B5C9E'],[kmF4,censF4,'#7CC36A']],[2.6,4,5.05,9.2],'p<0.001',653);
[['H−TMB','#FF0000',286],['L−TMB','#1E7BF0',298]].forEach(a=>{seg(1692,a[2],1703,a[2],a[1]);seg(1697.5,a[2]-3,1697.5,a[2]+3,a[1],1.5);txt(1708,a[2],a[0],{s:8.5,c:'#222'});});
[['H−TMB+high risk','#FF0000',517.3],['H−TMB+low risk','#1E7BF0',529.3],['L−TMB+high risk','#7B5C9E',541.7],['L−TMB+low risk','#7CC36A',554]].forEach(a=>{seg(1675,a[2],1686.7,a[2],a[1]);seg(1681,a[2]-3,1681,a[2]+3,a[1],1.5);txt(1690.7,a[2],a[0],{s:8.5,c:'#222'});});

const N=chordNames.length,full=Array.from({length:N},()=>Array(N).fill(0));
chordUpper.forEach((r,i)=>r.forEach((v,k)=>{full[i][i+1+k]=v/100;full[i+1+k][i]=v/100;}));
const cg=addGrid(1212,771.7,428,440);
xAxis.push({gridIndex:cg,type:'value',min:-1,max:1,show:false});yAxis.push({gridIndex:cg,type:'value',min:-1,max:1,show:false});
const pos=full.map((r,i)=>{const sum=r.reduce((a,b)=>a+Math.abs(b),0),sc=chordSpan[i]/sum;let a=chordStart[i];const p={};
 let order=[];for(let k=1;k<N;k++)order.push((i-k+N)%N);
 const f=chordFirst[i]||[],l=chordLast[i]||[];order=[...f,...order.filter(j=>!f.includes(j)&&!l.includes(j)),...l];
 for(const j of order){const w=Math.abs(r[j])*sc;p[j]=[a,a+w];a+=w;}return p;});
series.push({type:'custom',xAxisIndex:cg,yAxisIndex:cg,data:[[0,0]],silent:true,clip:false,renderItem:(p,api)=>{
 const P=(deg,r)=>{const t=deg*Math.PI/180;return [r*Math.sin(t),r*Math.cos(t)]},C=a=>api.coord(a),kids=[];
 const arc=(a,b,r)=>{const o=[],n=Math.max(2,Math.ceil(Math.abs(b-a)/1.5));for(let i=0;i<=n;i++)o.push(C(P(a+(b-a)*i/n,r)));return o};
 const bez=(u,v)=>{const o=[];for(let i=1;i<24;i++){const s=i/24,k=(1-s)*(1-s),m=s*s;o.push(C([k*u[0]+m*v[0],k*u[1]+m*v[1]]));}return o};
 const R=.96;
 for(let i=0;i<N;i++)for(let j=i+1;j<N;j++){const v=full[i][j];if(!v)continue;const a=pos[i][j],b=pos[j][i];
  const pts=[...arc(a[0],a[1],R),...bez(P(a[1],R),P(b[0],R)),...arc(b[0],b[1],R),...bez(P(b[1],R),P(a[0],R))];
  kids.push({type:'polygon',shape:{points:pts},style:{fill:v>0?'rgba(238,70,30,.55)':'rgba(128,190,90,.58)'}});}
 for(let i=0;i<N;i++){const a=chordStart[i],b=a+chordSpan[i];
  kids.push({type:'polygon',shape:{points:[...arc(a,b,.98),...arc(b,a,1.0)]},style:{fill:chordColors[i]}});
  kids.push({type:'polyline',shape:{points:arc(a,b,1.002)},style:{stroke:'#222',lineWidth:.4,fill:'none'}});
  const m=a+chordSpan[i]/2,c=C(P(m,i==0?1.05:1.075)),top=(m<=90||m>270),rot=(top?-m:180-m)*Math.PI/180;
  kids.push({type:'text',x:c[0],y:c[1],rotation:rot,style:{text:chordNames[i],fontFamily:FF,fontSize:i==0?11.5:14,fill:'#000',align:'center',verticalAlign:'middle'}});}
 return {type:'group',children:kids};}});
const bar=addGrid(1673.7,899,17.8,185);
xAxis.push({gridIndex:bar,type:'value',min:0,max:1,show:false});
yAxis.push({gridIndex:bar,type:'value',min:-1,max:1,inverse:true,position:'right',axisLine:{show:false},axisTick:{show:true,length:4,lineStyle:{color:'#333'},customValues:[-1,0,1]},axisLabel:{fontSize:8.5,color:'#000',margin:9,customValues:[-1,0,1]},splitLine:{show:false}});
series.push({type:'custom',xAxisIndex:bar,yAxisIndex:bar,data:[[0,0]],silent:true,clip:false,renderItem:(p,api)=>{const a=api.coord([0,-1]),b=api.coord([1,1]);
 return {type:'rect',shape:{x:a[0],y:a[1],width:b[0]-a[0],height:b[1]-a[1]},style:{fill:new echarts.graphic.LinearGradient(0,0,0,1,[{offset:0,color:'#00E800'},{offset:.02,color:'#6FBB52'},{offset:.5,color:'#fff'},{offset:.97,color:'#EE4030'},{offset:1,color:'#FF0000'}])}}}});
xAxis.concat(yAxis,extraY).forEach(a=>a.nameMoveOverlap=false);
chart.setOption({animation:false,textStyle:{fontFamily:FF},grid,xAxis,yAxis:yAxis.concat(extraY),series,graphic:{elements:graphic}});
</script></body></html>
